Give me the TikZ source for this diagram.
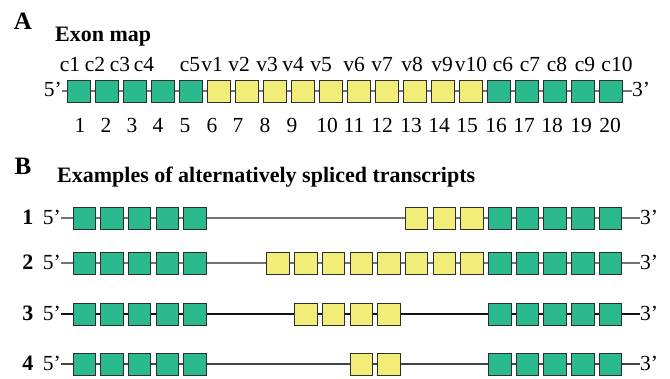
\documentclass[tikz,border=0pt]{standalone}
\usepackage{fontspec}
\setmainfont{Liberation Serif}
\definecolor{exgreen}{HTML}{2BBA8E}
\definecolor{exyellow}{HTML}{F2EC78}
\definecolor{introncol}{HTML}{747474}
\definecolor{introndark}{HTML}{111111}
\definecolor{intronmid}{HTML}{444444}
\definecolor{boxline}{HTML}{2E2E2E}
\pgfdeclarelayer{bg}
\pgfsetlayers{bg,main}
\begin{document}
\begin{tikzpicture}[x=1pt,y=-1pt,
  exon/.style={draw=boxline,line width=0.9pt,minimum height=22pt,inner sep=0pt,outer sep=0pt},
  gex/.style={exon,fill=exgreen},
  yex/.style={exon,fill=exyellow},
  intr/.style={line width=1.1pt},
  lab/.style={font=\fontsize{21.5}{24}\selectfont,inner sep=0pt,anchor=base},
  endl/.style={font=\fontsize{21.5}{24}\selectfont,inner sep=0pt,anchor=base east},
  endr/.style={font=\fontsize{21.5}{24}\selectfont,inner sep=0pt,anchor=base west},
  title/.style={font=\fontsize{22}{24}\selectfont\bfseries,inner sep=0pt,anchor=base west},
  panel/.style={font=\fontsize{25}{28}\selectfont\bfseries,inner sep=0pt,anchor=base},
  rownum/.style={font=\fontsize{22}{24}\selectfont\bfseries,inner sep=0pt,anchor=base}
]
\useasboundingbox (0,0) rectangle (670,379);

% ---------- Panel A ----------
\node[panel] (pA) at (23,30) {A};
\node[title] (tA) at (55,42) {Exon map};

\foreach \i in {1,...,20}{
  \pgfmathsetmacro\cx{78.5+28*(\i-1)}
  \ifnum\i<6
    \node[gex,minimum width=23pt] (a\i) at (\cx,91) {};
  \else\ifnum\i>15
    \node[gex,minimum width=23pt] (a\i) at (\cx,91) {};
  \else
    \node[yex,minimum width=23pt] (a\i) at (\cx,91) {};
  \fi\fi
}
\node[endl] (a5p) at (62,97) {5’};
\node[endr] (a3p) at (632,97) {3’};
\begin{pgfonlayer}{bg}
  \draw[intr,draw=introncol] (a1.west -| a5p.east) -- (a20.east -| a3p.west);
\end{pgfonlayer}

\foreach \x/\t [count=\k] in {70/c1,95/c2,120/c3,144/c4,190/c5,212/v1,239/v2,267/v3,293/v4,321/v5,354/v6,382/v7,412/v8,442/v9,471/v10,503/c6,530/c7,557/c8,585/c9,617/c10}{
  \node[lab] (la\k) at (\x,72) {\t};
}
\foreach \x/\t [count=\k] in {80/1,106/2,132/3,158/4,185/5,212/6,238/7,265/8,292/9,327/10,354/11,382/12,411/13,439/14,467/15,496/16,524/17,552/18,581/19,610/20}{
  \node[lab] (na\k) at (\x,133) {\t};
}

% ---------- Panel B ----------
\node[panel] (pB) at (23,175) {B};
\node[title] (tB) at (57,183) {Examples of alternatively spliced transcripts};

\foreach \r/\y/\ys/\ye/\lc in {1/218/13/15/introncol, 2/263/8/15/introncol, 3/314/9/12/introndark, 4/364/11/12/intronmid}{
  \node[rownum] (rn\r) at (28,\y+7) {\r};
  \node[endl] (p\r) at (61,\y+7) {5’};
  \node[endr] (q\r) at (640,\y+7) {3’};
  \foreach \i in {1,...,5,16,17,18,19,20}{
    \node[gex,minimum width=22.5pt] (b\r-\i) at ({84.25+27.7*(\i-1)},\y) {};
  }
  \foreach \i in {\ys,...,\ye}{
    \node[yex,minimum width=22.5pt] (b\r-\i) at ({84.25+27.7*(\i-1)},\y) {};
  }
  \begin{pgfonlayer}{bg}
    \draw[intr,draw=\lc] (b\r-1.west -| p\r.east) -- (b\r-20.east -| q\r.west);
  \end{pgfonlayer}
}
\end{tikzpicture}
\end{document}
